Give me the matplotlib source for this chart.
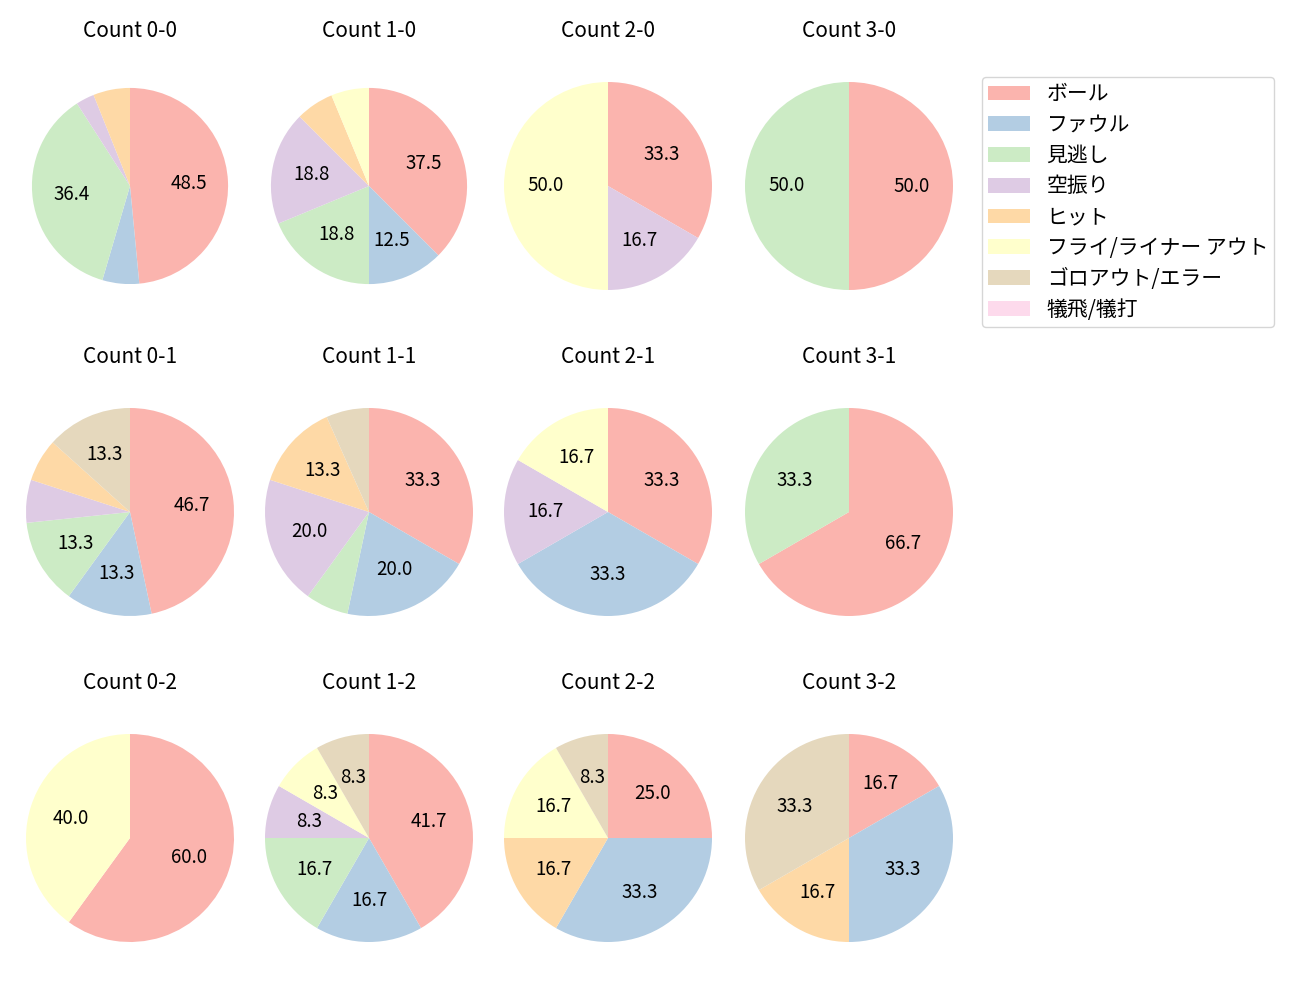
import matplotlib
matplotlib.use("Agg")
import matplotlib.pyplot as plt
from matplotlib.patches import Patch

plt.rcParams['font.family'] = ['Noto Sans CJK JP', 'DejaVu Sans']

categories = ['ボール', 'ファウル', '見逃し', '空振り', 'ヒット',
              'フライ/ライナー アウト', 'ゴロアウト/エラー', '犠飛/犠打']
colors = ['#fbb4ae', '#b3cde3', '#ccebc5', '#decbe4', '#fed9a6',
          '#ffffcc', '#e5d8bd', '#fddaec']

titles = ['Count 0-0', 'Count 1-0', 'Count 2-0', 'Count 3-0',
          'Count 0-1', 'Count 1-1', 'Count 2-1', 'Count 3-1',
          'Count 0-2', 'Count 1-2', 'Count 2-2', 'Count 3-2']

c00 = [16, 2, 12, 1, 2, 0, 0, 0]
c10 = [6, 2, 3, 3, 1, 1, 0, 0]
c20 = [2, 0, 0, 1, 0, 3, 0, 0]
c30 = [1, 0, 1, 0, 0, 0, 0, 0]
c01 = [7, 2, 2, 1, 1, 0, 2, 0]
c11 = [5, 3, 1, 3, 2, 0, 1, 0]
c21 = [2, 2, 0, 1, 0, 1, 0, 0]
c31 = [2, 0, 1, 0, 0, 0, 0, 0]
c02 = [3, 0, 0, 0, 0, 2, 0, 0]
c12 = [5, 2, 2, 1, 0, 1, 1, 0]
c22 = [3, 4, 0, 0, 2, 2, 1, 0]
c32 = [1, 2, 0, 0, 1, 0, 2, 0]

data = [c00, c10, c20, c30, c01, c11, c21, c31, c02, c12, c22, c32]

# layout (pixels)
W, H = 1300, 1000
col_x = [130, 369, 608, 849]
row_y = [186, 512, 838]
box = 240
rad_px = 104
radii = [0.943, 0.943] + [1.0] * 10

fig = plt.figure(figsize=(13, 10), dpi=100)

def fmt(p):
    return f'{p:.1f}' if p > 7 else ''

for i, vals in enumerate(data):
    r, c = divmod(i, 4)
    cx, cy = col_x[c], row_y[r]
    ax = fig.add_axes([(cx - box / 2) / W, 1 - (cy + box / 2) / H, box / W, box / H])
    ax.pie(vals, colors=colors, startangle=90, counterclock=False,
           autopct=fmt, pctdistance=0.6, radius=radii[i],
           textprops={'fontsize': 13.5})
    lim = box / (2 * rad_px)
    ax.set_xlim(-lim, lim)
    ax.set_ylim(-lim, lim)
    ax.set_aspect('equal')
    ax.set_title(titles[i], fontsize=15, pad=21)

handles = [Patch(facecolor=col, label=lab) for col, lab in zip(colors, categories)]
fig.legend(handles=handles, loc='upper left',
           bbox_to_anchor=(982 / W, 1 - 77 / H), bbox_transform=fig.transFigure,
           borderaxespad=0, borderpad=0.3, fontsize=15, labelspacing=0.42,
           frameon=True)

fig.savefig('out.png', dpi=100)
